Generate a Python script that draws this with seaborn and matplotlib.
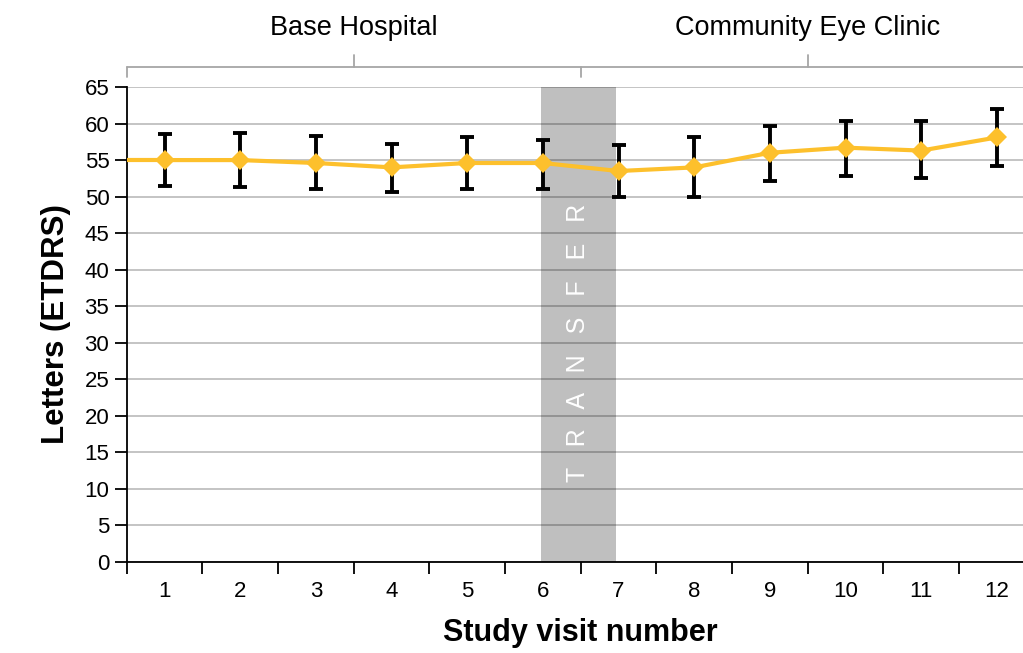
import numpy as np
import pandas as pd
import matplotlib
matplotlib.use('Agg')
import matplotlib.pyplot as plt
import matplotlib.transforms as mtransforms
import seaborn as sns


# DONNEES
visits = ['1', '2', '3', '4', '5', '6', '7', '8', '9', '10', '11', '12']
mean_letters = [55.0, 55.0, 54.6, 54.0, 54.6, 54.6, 53.5, 54.0, 56.0, 56.7, 56.3, 58.1]
upper_ci = [58.5, 58.7, 58.3, 57.2, 58.1, 57.7, 57.0, 58.1, 59.6, 60.3, 60.3, 62.0]
lower_ci = [51.5, 51.3, 51.0, 50.6, 51.0, 51.0, 50.0, 50.0, 52.1, 52.8, 52.5, 54.2]
site_names = ['Base Hospital', 'Community Eye Clinic']
transfer_label = 'TRANSFER'

gold = '#FDC02C'

sns.set_style('white')
plt.rcParams['font.family'] = ['Liberation Sans', 'DejaVu Sans']
plt.rcParams['text.color'] = 'black'
plt.rcParams['axes.labelcolor'] = 'black'
plt.rcParams['xtick.color'] = 'black'
plt.rcParams['ytick.color'] = 'black'

df = pd.DataFrame({'pos': np.arange(len(visits)), 'mean': mean_letters,
                   'lo': lower_ci, 'hi': upper_ci})

fig = plt.figure(figsize=(10.23, 6.53), dpi=100)
ax = fig.add_axes([126.7 / 1023, 91 / 653, 908 / 1023, 475 / 653])
ax.set_axisbelow(True)

# bande "transfert" entre la visite 6 et la visite 7
ax.axvspan(4.97, 5.97, color='#BFBFBF', lw=0, zorder=0)
ax.yaxis.grid(True, color='black', alpha=0.25, lw=1.3)

# barres d'erreur
yerr = [df['mean'] - df['lo'], df['hi'] - df['mean']]
ax.errorbar(df['pos'], df['mean'], yerr=yerr, fmt='none', ecolor='black',
            elinewidth=2.8, capsize=5.2, capthick=2.8, zorder=3)

# courbe moyenne
ax.plot([-0.5, 0], [mean_letters[0], mean_letters[0]], color=gold, lw=3, zorder=4)
sns.lineplot(data=df, x='pos', y='mean', color=gold, lw=3, marker='D',
             markersize=10.5, markeredgewidth=0, ax=ax, zorder=4)

ax.text(5.47, 30, '   '.join(transfer_label), rotation=90, color='white',
        ha='center', va='center', fontsize=18)

# axes
ax.set_xlim(-0.5, 11.5)
ax.set_ylim(0, 65)
ax.set_xticks(df['pos'])
ax.set_xticklabels(visits)
ax.set_xticks(np.arange(-0.5, 12), minor=True)
ax.set_yticks(range(0, 66, 5))
ax.tick_params(axis='x', which='major', bottom=True, length=0, pad=14, labelsize=16)
ax.tick_params(axis='x', which='minor', bottom=True, length=8.5, width=1.3,
               color='black', direction='out')
ax.tick_params(axis='y', left=True, length=8.5, width=1.3, color='black',
               labelsize=16, pad=4)
ax.spines[['top', 'right']].set_visible(False)
for s in ['left', 'bottom']:
    ax.spines[s].set_color('black')
    ax.spines[s].set_linewidth(1.3)

ax.set_xlabel('Study visit number', fontsize=22, fontweight='bold', labelpad=11)
ax.set_ylabel('Letters (ETDRS)', fontsize=22.5, fontweight='bold', labelpad=10)

# accolade des sites en haut
trans = mtransforms.blended_transform_factory(ax.transData, fig.transFigure)
y_line = (653 - 67) / 653
y_up = (653 - 55) / 653
y_down = (653 - 77) / 653
bracket = dict(color='#A6A6A6', lw=1.3, transform=trans, clip_on=False)
ax.plot([-0.5, 11.5], [y_line, y_line], **bracket)
for xb in [-0.5, 5.5]:
    ax.plot([xb, xb], [y_line, y_down], **bracket)
for xc, name in zip([2.5, 8.5], site_names):
    ax.plot([xc, xc], [y_line, y_up], **bracket)
    ax.text(xc, (653 - 28) / 653, name, transform=trans, ha='center',
            va='center', fontsize=19.5)

fig.savefig('out.png', dpi=100)
